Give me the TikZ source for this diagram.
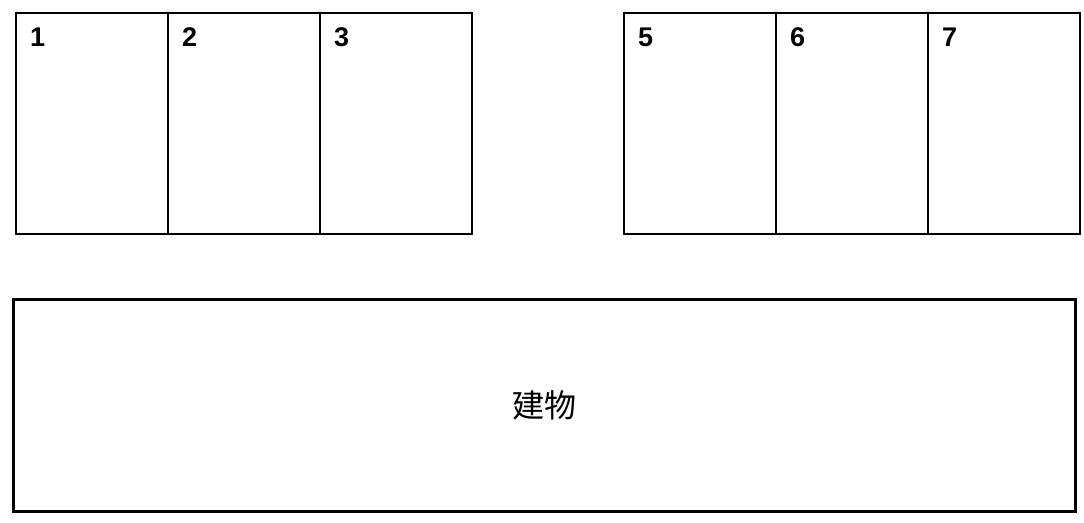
\documentclass[tikz,border=0pt]{standalone}
\usepackage{fontspec}
\setmainfont{Noto Sans CJK JP}
\newfontfamily\numfont{Liberation Sans}
\usetikzlibrary{positioning}

\begin{document}
\begin{tikzpicture}[
						x=1pt, y=-1pt,
						node distance={152pt},
						stall/.style = {draw, line width=1.5pt, outer sep=0pt, minimum width=152pt, minimum height=221pt, inner sep=0pt},
						num/.style = {font=\fontsize{27}{30}\selectfont\numfont\bfseries, inner sep=0pt, anchor=base west, xshift=14pt, yshift=-33pt},
						building/.style = {draw, line width=3pt, outer sep=0pt, minimum width=1062pt, minimum height=212pt, font=\fontsize{32}{38}\selectfont}
					]
\useasboundingbox (0,0) rectangle (1084,522);
\node[stall, label={[num]north west:1}] (1) at (92,123.5) {};
\node[stall, label={[num]north west:2}] (2) [right of=1] {};
\node[stall, label={[num]north west:3}] (3) [right of=2] {};
\node[stall, label={[num]north west:5}] (5) [right=152pt of 3] {};
\node[stall, label={[num]north west:6}] (6) [right of=5] {};
\node[stall, label={[num]north west:7}] (7) [right of=6] {};

\node[building] (bldg) at (544.5,405.5) {\raisebox{2pt}{建物}};
\end{tikzpicture}
\end{document}
